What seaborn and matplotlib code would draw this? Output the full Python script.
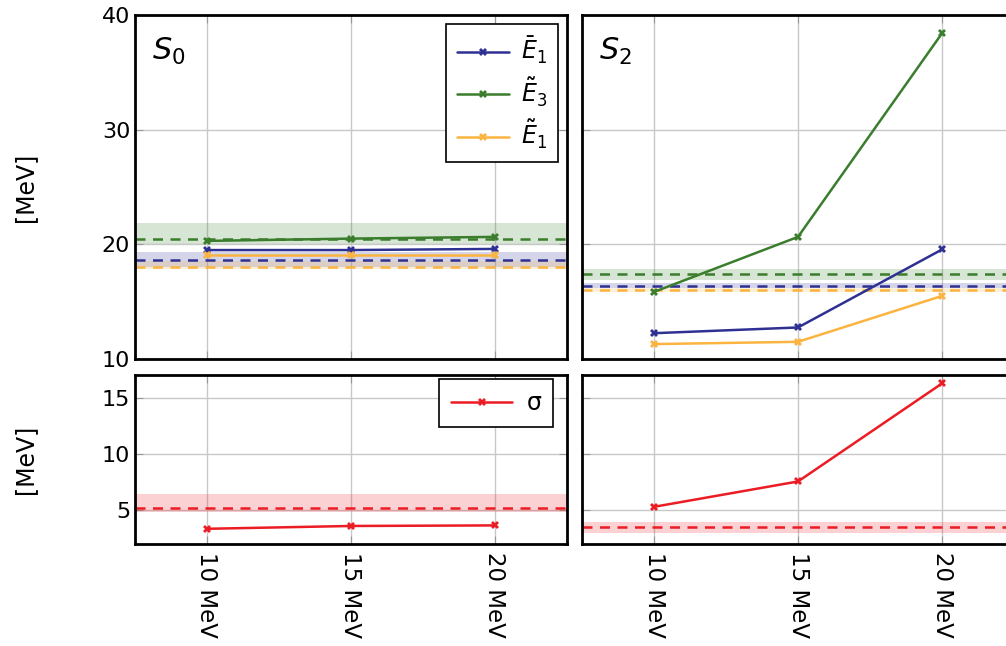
import numpy as np
import pandas as pd
import matplotlib
matplotlib.use("Agg")
import matplotlib.pyplot as plt
import seaborn as sns

# energies on the x axis
energies = [10, 15, 20]
tick_labels = ["10 MeV", "15 MeV", "20 MeV"]

# S0 panel
s0_e1bar = [19.5, 19.5, 19.6]
s0_e3tilde = [20.3, 20.5, 20.65]
s0_e1tilde = [19.1, 19.1, 19.1]
s0_sigma = [3.35, 3.6, 3.65]

# S2 panel
s2_e1bar = [12.25, 12.75, 19.55]
s2_e3tilde = [15.85, 20.65, 38.4]
s2_e1tilde = [11.3, 11.5, 15.5]
s2_sigma = [5.3, 7.55, 16.25]

# reference levels (dashed) and their bands (low, high)
s0_ref = {"e1bar": (18.65, 18.0, 19.3), "e3tilde": (20.45, 20.0, 21.85),
          "e1tilde": (18.05, 17.85, 18.55), "sigma": (5.2, 4.8, 6.4)}
s2_ref = {"e1bar": (16.4, 16.2, 16.6), "e3tilde": (17.4, 16.9, 17.85),
          "e1tilde": (16.0, 15.85, 16.15), "sigma": (3.55, 3.0, 3.95)}

colors = {"e1bar": "#2e3192", "e3tilde": "#3a7d2c", "e1tilde": "#fbb440", "sigma": "#ec1c24"}
labels = {"e1bar": r"$\bar{E}_1$", "e3tilde": r"$\tilde{E}_3$", "e1tilde": r"$\tilde{E}_1$", "sigma": "σ"}

sns.set_style("white")
plt.rcParams["font.family"] = ["DejaVu Sans"]
plt.rcParams["mathtext.fontset"] = "dejavusans"
plt.rcParams["text.color"] = "black"
plt.rcParams["xtick.labelcolor"] = "black"
plt.rcParams["ytick.labelcolor"] = "black"

fig = plt.figure(figsize=(10.06, 6.46), dpi=100)
W = 432 / 1006
ax_tl = fig.add_axes([135 / 1006, 287 / 646, W, 344 / 646])
ax_tr = fig.add_axes([582 / 1006, 287 / 646, W, 344 / 646])
ax_bl = fig.add_axes([135 / 1006, 102 / 646, W, 169 / 646])
ax_br = fig.add_axes([582 / 1006, 102 / 646, W, 169 / 646])


def draw(ax, series, refs, keys):
    for k in keys:
        mid, lo, hi = refs[k]
        ax.axhspan(lo, hi, color=colors[k], alpha=0.2, lw=0, zorder=1)
        ax.axhline(mid, color=colors[k], ls=(0, (4, 3)), lw=1.8, zorder=2)
    for k in keys:
        df = pd.DataFrame({"x": energies, "y": series[k]})
        sns.lineplot(data=df, x="x", y="y", ax=ax, color=colors[k], lw=1.8,
                     marker="X", markersize=6, markeredgewidth=0, label=labels[k], zorder=3)


draw(ax_tl, {"e1bar": s0_e1bar, "e3tilde": s0_e3tilde, "e1tilde": s0_e1tilde}, s0_ref,
     ["e1bar", "e3tilde", "e1tilde"])
draw(ax_tr, {"e1bar": s2_e1bar, "e3tilde": s2_e3tilde, "e1tilde": s2_e1tilde}, s2_ref,
     ["e1bar", "e3tilde", "e1tilde"])
draw(ax_bl, {"sigma": s0_sigma}, s0_ref, ["sigma"])
draw(ax_br, {"sigma": s2_sigma}, s2_ref, ["sigma"])

for ax in [ax_tl, ax_tr, ax_bl, ax_br]:
    ax.set_xlim(7.5, 22.5)
    ax.set_xticks(energies)
    ax.grid(True, color="#c8c8c8", lw=1)
    ax.tick_params(direction="in", length=6, color="#999999", labelsize=16,
                   left=True, right=True, top=True, bottom=True)
    for s in ax.spines.values():
        s.set_color("black")
        s.set_linewidth(2)
    ax.set_xlabel("")
    ax.set_ylabel("")

for ax in [ax_tl, ax_tr]:
    ax.set_ylim(10, 40)
    ax.set_yticks([10, 20, 30, 40])
    ax.set_xticklabels([])
for ax in [ax_bl, ax_br]:
    ax.set_ylim(2, 17)
    ax.set_yticks([5, 10, 15])
    ax.set_xticklabels(tick_labels, rotation=270, fontsize=16.5, va="top")
    ax.tick_params(axis="x", pad=6)
for ax in [ax_tr, ax_br]:
    ax.set_yticklabels([])

ax_tl.text(0.04, 0.94, r"$S_0$", transform=ax_tl.transAxes, fontsize=22, va="top")
ax_tr.text(0.04, 0.94, r"$S_2$", transform=ax_tr.transAxes, fontsize=22, va="top")

leg = ax_tl.legend(loc="upper right", fontsize=17, fancybox=False, edgecolor="black",
                   framealpha=1, handlelength=2.2, handletextpad=0.5, borderpad=0.45,
                   labelspacing=0.4, borderaxespad=0.4)
leg.get_frame().set_linewidth(1.2)
leg = ax_bl.legend(loc="upper right", bbox_to_anchor=(0.968, 0.976), borderaxespad=0,
                   fontsize=17, fancybox=False, edgecolor="black", framealpha=1,
                   handlelength=2.6, handletextpad=0.6, borderpad=0.5)
leg.get_frame().set_linewidth(1.2)
if ax_tr.get_legend():
    ax_tr.get_legend().remove()
if ax_br.get_legend():
    ax_br.get_legend().remove()

fig.text(25 / 1006, 1 - 187 / 646, "[MeV]", rotation=90, fontsize=17, ha="center", va="center")
fig.text(25 / 1006, 1 - 459 / 646, "[MeV]", rotation=90, fontsize=17, ha="center", va="center")

fig.savefig("out.png", dpi=100)
